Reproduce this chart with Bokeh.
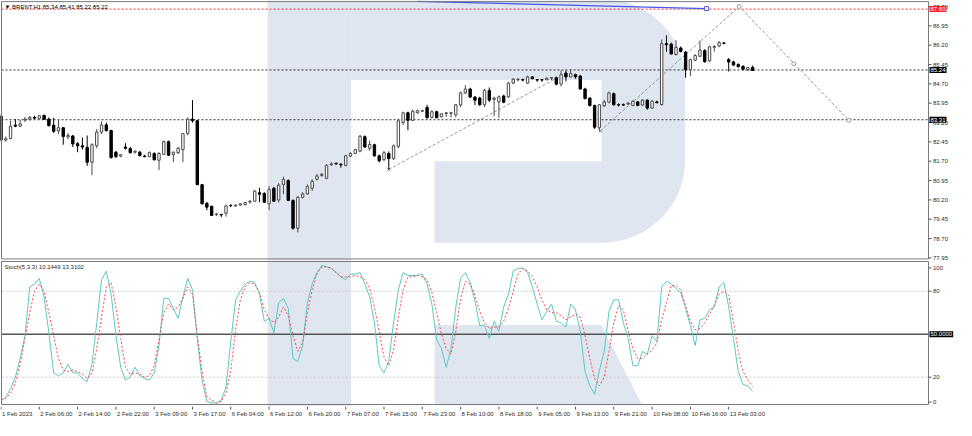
import numpy as np
from bokeh.plotting import figure
from bokeh.models import Range1d, Label, ColumnDataSource
from bokeh.layouts import column
from bokeh.embed import file_html
from bokeh.resources import INLINE
from bokeh.core.properties import value

FONT = "Liberation Sans"

# ---------------- data ----------------
opens = [83.45, 82.52, 82.58, 83.10, 83.06, 83.30, 83.33, 83.40, 83.36, 83.48,
         83.33, 83.10, 82.88, 83.00, 82.64, 82.68, 82.38, 82.30, 82.24, 81.66,
         82.30, 82.83, 83.11, 82.89, 82.05, 81.90, 82.25, 82.19, 82.05, 82.05,
         81.90, 81.88, 82.00, 81.74, 81.97, 82.46, 81.96, 82.03, 82.15, 82.77,
         83.33, 83.27, 80.79, 80.07, 79.95, 79.63, 79.62, 79.68, 79.98, 79.97,
         80.00, 80.02, 80.12, 80.15, 80.48, 80.45, 80.05, 80.65, 80.20, 80.80,
         80.95, 80.18, 79.10, 80.30, 80.43, 80.65, 81.00, 81.15, 81.04, 81.56,
         81.62, 81.58, 81.54, 81.90, 82.00, 82.09, 82.65, 82.20, 82.34, 81.91,
         81.76, 82.00, 81.80, 82.28, 83.20, 83.58, 83.29, 83.58, 83.64, 83.78,
         83.40, 83.62, 83.42, 83.55, 83.56, 83.50, 83.88, 84.35, 84.50, 84.19,
         84.15, 83.89, 84.44, 84.10, 84.00, 84.23, 84.20, 84.73, 84.86, 84.86,
         84.73, 84.97, 84.86, 84.86, 84.86, 84.92, 84.94, 84.69, 85.12, 84.97,
         85.06, 85.00, 84.50, 84.15, 83.86, 83.00, 83.85, 83.99, 84.32, 83.88,
         83.88, 83.92, 83.86, 84.00, 83.88, 84.07, 83.76, 84.00, 83.90, 86.26,
         86.24, 85.84, 86.09, 85.93, 85.25, 85.62, 85.77, 85.99, 85.59, 86.12,
         86.17, 86.29, 85.64, 85.55, 85.45, 85.38, 85.25, 85.34]
highs = [83.52, 82.66, 83.27, 83.33, 83.30, 83.42, 83.45, 83.46, 83.50, 83.50,
         83.40, 83.38, 83.30, 83.02, 82.80, 82.72, 82.45, 82.62, 82.70, 82.40,
         82.95, 83.25, 83.20, 82.92, 82.10, 81.98, 82.40, 82.25, 82.12, 82.10,
         81.95, 82.08, 82.05, 82.05, 82.50, 82.50, 82.08, 82.25, 82.80, 83.40,
         84.07, 83.30, 80.82, 80.12, 79.98, 79.70, 79.66, 80.02, 80.02, 80.02,
         80.08, 80.12, 80.20, 80.58, 80.67, 80.50, 80.73, 80.70, 80.85, 81.10,
         81.00, 80.22, 80.35, 80.50, 80.80, 81.00, 81.20, 81.25, 81.58, 81.66,
         81.65, 81.62, 81.95, 82.05, 82.18, 82.72, 82.70, 82.50, 82.38, 81.96,
         82.10, 82.08, 82.35, 83.35, 83.62, 83.62, 83.70, 83.70, 83.70, 83.89,
         83.68, 83.66, 83.56, 83.60, 83.60, 83.92, 84.40, 84.65, 84.55, 84.22,
         84.20, 84.50, 84.56, 84.20, 84.25, 84.28, 84.78, 84.92, 84.92, 84.90,
         85.02, 85.00, 84.88, 84.88, 84.95, 84.96, 84.98, 85.22, 85.22, 85.27,
         85.10, 85.05, 84.55, 84.18, 83.90, 83.92, 84.08, 84.40, 84.36, 83.94,
         83.94, 84.00, 84.06, 84.04, 84.10, 84.10, 84.06, 84.05, 86.42, 86.58,
         86.30, 86.40, 86.15, 85.98, 85.68, 85.85, 86.38, 86.05, 86.18, 86.20,
         86.36, 86.32, 85.70, 85.60, 85.50, 85.42, 85.36, 85.41]
lows = [82.45, 82.46, 82.55, 83.02, 83.02, 83.22, 83.28, 83.34, 83.32, 83.30,
        83.05, 82.80, 82.75, 82.34, 82.55, 82.25, 82.05, 82.15, 81.52, 81.16,
        82.20, 82.75, 82.85, 81.80, 81.82, 81.85, 82.15, 82.00, 82.00, 81.88,
        81.85, 81.85, 81.72, 81.35, 81.95, 81.90, 81.66, 81.98, 81.66, 82.70,
        83.20, 80.79, 80.02, 79.80, 79.58, 79.58, 79.53, 79.55, 79.92, 79.93,
        79.97, 79.98, 80.05, 80.12, 80.11, 80.08, 79.80, 80.12, 80.10, 80.42,
        80.15, 79.05, 78.94, 80.25, 80.40, 80.55, 80.95, 81.10, 81.00, 81.52,
        81.56, 81.45, 81.50, 81.86, 81.98, 82.05, 82.22, 82.10, 81.88, 81.65,
        81.70, 81.38, 81.75, 82.20, 83.10, 82.90, 83.25, 83.55, 83.62, 83.35,
        83.36, 83.36, 83.40, 83.42, 83.40, 83.40, 83.80, 84.30, 84.15, 83.88,
        83.85, 83.80, 84.00, 83.45, 83.39, 83.95, 84.15, 84.70, 84.80, 84.80,
        84.70, 84.88, 84.78, 84.78, 84.84, 84.85, 84.65, 84.60, 84.80, 84.95,
        84.90, 84.48, 84.10, 83.82, 82.95, 82.88, 83.80, 83.95, 83.86, 83.82,
        83.84, 83.88, 83.84, 83.84, 83.85, 83.70, 83.74, 83.95, 83.85, 85.95,
        85.84, 85.80, 85.92, 84.94, 85.00, 85.58, 85.74, 85.52, 85.55, 85.95,
        86.12, 86.24, 85.18, 85.40, 85.33, 85.22, 85.20, 85.22]
closes = [82.52, 82.57, 83.06, 83.06, 83.15, 83.33, 83.40, 83.37, 83.46, 83.33,
          83.08, 82.86, 83.00, 82.66, 82.70, 82.37, 82.30, 82.25, 81.66, 82.34,
          82.83, 83.11, 82.89, 81.84, 81.88, 81.95, 82.20, 82.03, 82.09, 81.92,
          81.88, 82.03, 81.76, 82.00, 82.46, 81.93, 82.05, 82.21, 82.77, 83.33,
          83.27, 80.79, 80.05, 79.92, 79.60, 79.65, 79.62, 79.97, 79.98, 80.00,
          80.05, 80.10, 80.15, 80.54, 80.42, 80.11, 80.60, 80.15, 80.77, 81.00,
          80.18, 79.10, 80.30, 80.43, 80.72, 80.92, 81.13, 81.19, 81.54, 81.60,
          81.60, 81.56, 81.91, 82.00, 82.15, 82.67, 82.25, 82.35, 81.91, 81.72,
          82.03, 81.80, 82.30, 83.27, 83.58, 83.29, 83.64, 83.66, 83.66, 83.39,
          83.62, 83.39, 83.54, 83.58, 83.58, 83.89, 84.35, 84.50, 84.19, 84.07,
          83.89, 84.44, 84.07, 84.15, 84.20, 83.99, 84.73, 84.88, 84.88, 84.85,
          84.97, 84.90, 84.85, 84.85, 84.92, 84.94, 84.69, 85.06, 84.97, 85.10,
          84.97, 84.50, 84.13, 83.86, 83.02, 83.89, 84.00, 84.35, 83.89, 83.88,
          83.88, 83.95, 84.03, 83.86, 84.07, 83.76, 84.03, 83.97, 86.26, 86.22,
          85.86, 86.11, 85.96, 85.25, 85.64, 85.80, 86.01, 85.56, 86.14, 86.15,
          86.30, 86.27, 85.55, 85.43, 85.37, 85.27, 85.33, 85.22]

stoch_k = [4, 6, 12, 20, 33, 49, 83, 85, 89, 76,
           51, 23, 21, 23, 29, 23, 23, 19, 17, 29,
           58, 88, 94, 78, 49, 27, 18, 20, 27, 21,
           19, 18, 23, 42, 75, 75, 68, 61, 76, 89,
           81, 47, 18, 3, 2, 2, 4, 13, 45, 74,
           80, 85, 87, 86, 78, 59, 61, 51, 72, 75,
           68, 33, 31, 42, 72, 85, 93, 98, 97, 96,
           93, 90, 88, 92, 92, 93, 85, 76, 58, 28,
           23, 31, 58, 81, 93, 91, 91, 91, 92, 85,
           71, 46, 40, 27, 40, 69, 89, 93, 86, 73,
           56, 56, 47, 59, 52, 69, 78, 94, 96, 96,
           93, 83, 71, 60, 66, 71, 59, 58, 55, 71,
           67, 52, 24, 14, 8, 25, 38, 66, 74, 74,
           58, 47, 28, 28, 38, 36, 49, 45, 83, 87,
           85, 82, 79, 68, 56, 42, 60, 61, 67, 69,
           83, 86, 69, 47, 24, 15, 14, 10.1449]
stoch_d = [4, 5, 9, 16, 29, 47, 65, 80, 85, 80,
           65, 49, 33, 25, 24, 25, 24, 22, 19, 23,
           40, 62, 83, 86, 69, 47, 27, 22, 23, 22,
           20, 21, 28, 46, 65, 71, 67, 69, 75, 83,
           78, 49, 24, 6, 4, 2, 3, 9, 25, 53,
           74, 83, 86, 85, 79, 67, 61, 58, 62, 69,
           63, 49, 38, 44, 65, 81, 92, 97, 97, 96,
           93, 90, 90, 90, 91, 90, 88, 82, 69, 52,
           34, 28, 39, 62, 81, 90, 90, 91, 90, 88,
           79, 65, 50, 40, 36, 52, 75, 87, 85, 77,
           66, 58, 54, 55, 55, 59, 68, 80, 92, 96,
           94, 90, 83, 74, 67, 65, 65, 63, 60, 62,
           64, 62, 49, 33, 19, 14, 20, 38, 58, 70,
           67, 52, 40, 33, 33, 36, 39, 44, 60, 72,
           84, 84, 81, 70, 59, 53, 54, 58, 64, 70,
           78, 80, 77, 59, 38, 24, 18, 13.3102]

x_tick_index = [0, 8, 16, 24, 32, 40, 48, 56, 64, 72, 80, 88, 96, 104,
                112, 120, 128, 136, 144, 152]
x_tick_labels = ["1 Feb 2023", "2 Feb 06:00", "2 Feb 14:00", "2 Feb 22:00",
                 "3 Feb 09:00", "3 Feb 17:00", "6 Feb 04:00", "6 Feb 12:00",
                 "6 Feb 20:00", "7 Feb 07:00", "7 Feb 15:00", "7 Feb 23:00",
                 "8 Feb 10:00", "8 Feb 18:00", "9 Feb 05:00", "9 Feb 13:00",
                 "9 Feb 21:00", "10 Feb 08:00", "10 Feb 16:00", "13 Feb 03:00"]
price_ticks = [77.95, 78.70, 79.45, 80.20, 80.95, 81.70, 82.45, 83.20,
               83.95, 84.70, 85.45, 86.20, 86.95, 87.70]
stoch_tick_pos = [96.3, 80, 20, 2.6]
stoch_tick_text = ["100", "80", "20", "0"]

red_level = 87.60
black_levels = [85.24, 83.31]
stoch_levels = [80, 20]
stoch_mid = 50

# drawn objects (trend lines) in bar-index / price units
trend1_x = [81, 115.6]
trend1_y = [81.38, 84.88]
trend2_x = [125.2, 154.2, 177.1]
trend2_y = [82.88, 87.70, 83.29]
trend2_mid = (165.6, 85.48)
blue_x = [86.9, 147.4]
blue_y = [87.90, 87.62]

title_text = "\u25bc BRENT,H1  85.34 85.41 85.22 85.22"
stoch_title = "Stoch(5,3,3) 10.1449 13.3102"

# ---------------- frame geometry ----------------
W = 956
PXB = 4.7872                # pixels per bar
DX = 1.0 / PXB              # data units per pixel (x)
XA, XB = -0.1063, 199.59    # whole canvas width (plot + price scale)
X_L, X_R = 0.1026, 193.74   # plot border (left / right)

P_RANGE = (77.85, 87.934)
P_TOP, P_BOT = 87.89, 77.91
S_RANGE = (-0.45, 101.44)
S_TOP, S_BOT = 100.74, 0.94

BORDER = "#7a7a7a"
WM = "#dfe6f0"
TXT = "#2b2b2b"


def wx(px):
    return (px - 1.5) / 4.875


def wp(py):
    return 85.24 - (py - 73.5) / 26.94


def ws(py):
    return 50 - (py - 348.5) / 1.488


common = dict(toolbar_location=None, output_backend="svg", x_axis_type=None,
              y_axis_type=None, min_border_left=0, min_border_right=0,
              min_border_top=0, min_border_bottom=0, outline_line_color=None,
              background_fill_color="white", border_fill_color="white")


def frame_border(p, top, bot):
    p.segment(x0=[X_L, X_R, X_L, X_L], y0=[bot, bot, top, bot],
              x1=[X_L, X_R, X_R, X_R], y1=[top, top, top, bot],
              line_color=BORDER, line_width=1)


def price_scale(p, ticks, labels):
    n = len(ticks)
    p.segment(x0=[X_R] * n, y0=ticks, x1=[X_R + 3 * DX] * n, y1=ticks,
              line_color="#555555", line_width=1)
    p.text(x=[X_R + 4.5 * DX] * n, y=ticks, text=labels, text_font=value(FONT),
           text_font_size="6px", text_color=TXT, text_align="left",
           text_baseline="middle")


def tag(p, y, text, bg):
    p.add_layout(Label(x=X_R, y=y, x_offset=1, text=text, text_font=FONT,
                       text_font_size="6px", text_color="white",
                       text_baseline="middle", background_fill_color=bg,
                       padding=1))


# ---------------- price panel ----------------
p1 = figure(width=W, height=260, x_range=Range1d(XA, XB), y_range=Range1d(*P_RANGE),
            **common)

# watermark: stem
p1.patch([wx(273), wx(358), wx(358), wx(273)], [wp(-5), wp(-5), wp(280), wp(280)],
         fill_color=WM, line_color=None)
# watermark: bowl
bx_pts = [358, 613]
by_pts = [-1, -1]
for t in np.linspace(np.pi / 2, 0, 20):
    bx_pts.append(613 + 85 * np.cos(t)); by_pts.append(84 - 85 * np.sin(t))
bx_pts.append(698); by_pts.append(169)
for t in np.linspace(0, -np.pi / 2, 20):
    bx_pts.append(613 + 85 * np.cos(t)); by_pts.append(169 - 85 * np.sin(t))
bx_pts += [443, 443, 613, 613, 358]
by_pts += [254, 169, 169, 84, 84]
p1.patch([wx(v) for v in bx_pts], [wp(v) for v in by_pts], fill_color=WM, line_color=None)

# level lines
p1.segment(x0=[X_L], y0=[red_level], x1=[X_R], y1=[red_level], line_color="#ff3030",
           line_dash="2 2", line_width=1)
nb = len(black_levels)
p1.segment(x0=[X_L] * nb, y0=black_levels, x1=[X_R] * nb, y1=black_levels,
           line_color="#333333", line_dash="2 2", line_width=1)

# drawn objects
p1.line(blue_x, blue_y, line_color="#4656ee", line_width=1.2)
p1.scatter([blue_x[-1]], [blue_y[-1]], marker="square", size=4, fill_color="white",
           line_color="#4656ee")
p1.line(trend1_x, trend1_y, line_color="#8e9a9a", line_dash="3 2", line_width=1)
p1.line(trend2_x, trend2_y, line_color="#8e9a9a", line_dash="3 2", line_width=1)
p1.scatter([trend1_x[0], trend2_x[0]], [trend1_y[0], trend2_y[0]], marker="x", size=5,
           line_color="#7f8a8a")
p1.scatter([trend2_x[1], trend2_x[2], trend2_mid[0]], [trend2_y[1], trend2_y[2], trend2_mid[1]],
           marker="circle", size=4, fill_color="white", line_color="#8e9a9a")

# candles
o = np.array(opens); h = np.array(highs); l = np.array(lows); c = np.array(closes)
idx = np.arange(len(o))
bull = c > o
top = np.maximum(o, c)
bot = np.minimum(o, c)
top = np.where(top - bot < 0.012, bot + 0.012, top)
fill = np.where(bull, "white", "black")
line = np.where(bull, "#4a4a4a", "black")
src = ColumnDataSource(dict(x=idx, high=h, low=l, top=top, bottom=bot,
                            fill=list(fill), line=list(line)))
p1.segment(x0="x", y0="low", x1="x", y1="high", line_color="line", line_width=1, source=src)
p1.vbar(x="x", width=0.5, top="top", bottom="bottom", fill_color="fill",
        line_color="line", line_width=1, source=src)

frame_border(p1, P_TOP, P_BOT)
price_scale(p1, price_ticks, [f"{t:.2f}" for t in price_ticks])
p1.add_layout(Label(x=X_L, y=P_TOP, x_offset=3, y_offset=-2, text=title_text,
                    text_font=FONT, text_font_size="6px", text_color="black",
                    text_baseline="top"))
tag(p1, red_level, f"{red_level:.2f}", "#ff1e1e")
for lv in black_levels:
    tag(p1, lv, f"{lv:.2f}", "black")

# ---------------- stochastic panel ----------------
p2 = figure(width=W, height=146, x_range=p1.x_range, y_range=Range1d(*S_RANGE),
            **common)
p2.patch([wx(273), wx(358), wx(358), wx(273)], [ws(265), ws(265), ws(430), ws(430)],
         fill_color=WM, line_color=None)
p2.patch([wx(443), wx(613), wx(654), wx(443)], [ws(339), ws(339), ws(421.5), ws(421.5)],
         fill_color=WM, line_color=None)
ns = len(stoch_levels)
p2.segment(x0=[X_L] * ns, y0=stoch_levels, x1=[X_R] * ns, y1=stoch_levels,
           line_color="#c8c8c8", line_dash="2 2", line_width=1)
p2.segment(x0=[X_L], y0=[stoch_mid], x1=[X_R], y1=[stoch_mid],
           line_color="#555555", line_width=1.5)
p2.line(idx, stoch_k, line_color="#5cc9c2", line_width=1)
p2.line(idx, stoch_d, line_color="#ff4a4a", line_dash="2 2", line_width=1)
frame_border(p2, S_TOP, S_BOT)
price_scale(p2, stoch_tick_pos, stoch_tick_text)
p2.add_layout(Label(x=X_L, y=S_TOP, x_offset=3, y_offset=-2, text=stoch_title,
                    text_font=FONT, text_font_size="6px", text_color=TXT,
                    text_baseline="top"))
tag(p2, stoch_mid, f"{stoch_mid:.4f}", "black")

# ---------------- time label strip ----------------
p3 = figure(width=W, height=14, x_range=p1.x_range, y_range=Range1d(0, 1), **common)
nt = len(x_tick_index)
p3.segment(x0=x_tick_index, y0=[1.0] * nt, x1=x_tick_index, y1=[0.78] * nt,
           line_color="#555555", line_width=1)
p3.text(x=x_tick_index, y=[0.45] * nt, text=x_tick_labels,
        text_font=value(FONT), text_font_size="6px", text_color=TXT,
        text_align="left", text_baseline="middle", x_offset=1)

layout = column(p1, p2, p3, spacing=0)
open("out.html", "w").write(file_html(layout, INLINE))
